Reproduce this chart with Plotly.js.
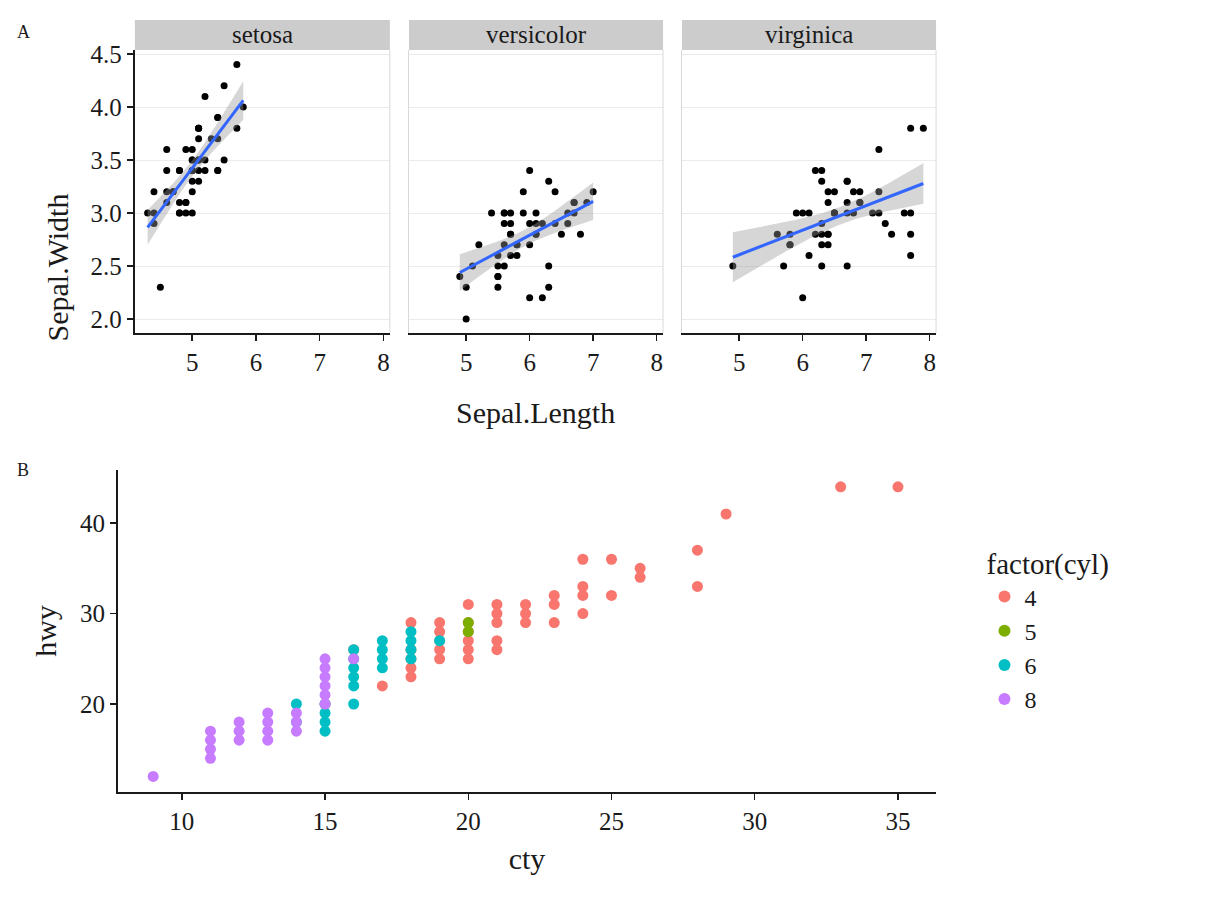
<!DOCTYPE html>
<html>
<head>
<meta charset="utf-8">
<script src="https://cdn.plot.ly/plotly-3.0.1.min.js"></script>
<style>body{margin:0;background:#fff}#chart{width:1226px;height:902px}</style>
</head>
<body>
<div id="chart"></div>
<script>
// Iris sepal measurements by species (length, width).
const species = ['setosa', 'versicolor', 'virginica'];
const setosaLength = [5.1,4.9,4.7,4.6,5.0,5.4,4.6,5.0,4.4,4.9,5.4,4.8,4.8,4.3,5.8,5.7,5.4,5.1,5.7,5.1,5.4,5.1,4.6,5.1,4.8,5.0,5.0,5.2,5.2,4.7,4.8,5.4,5.2,5.5,4.9,5.0,5.5,4.9,4.4,5.1,5.0,4.5,4.4,5.0,5.1,4.8,5.1,4.6,5.3,5.0];
const setosaWidth = [3.5,3.0,3.2,3.1,3.6,3.9,3.4,3.4,2.9,3.1,3.7,3.4,3.0,3.0,4.0,4.4,3.9,3.5,3.8,3.8,3.4,3.7,3.6,3.3,3.4,3.0,3.4,3.5,3.4,3.2,3.1,3.4,4.1,4.2,3.1,3.2,3.5,3.6,3.0,3.4,3.5,2.3,3.2,3.5,3.8,3.0,3.8,3.2,3.7,3.3];
const versicolorLength = [7.0,6.4,6.9,5.5,6.5,5.7,6.3,4.9,6.6,5.2,5.0,5.9,6.0,6.1,5.6,6.7,5.6,5.8,6.2,5.6,5.9,6.1,6.3,6.1,6.4,6.6,6.8,6.7,6.0,5.7,5.5,5.5,5.8,6.0,5.4,6.0,6.7,6.3,5.6,5.5,5.5,6.1,5.8,5.0,5.6,5.7,5.7,6.2,5.1,5.7];
const versicolorWidth = [3.2,3.2,3.1,2.3,2.8,2.8,3.3,2.4,2.9,2.7,2.0,3.0,2.2,2.9,2.9,3.1,3.0,2.7,2.2,2.5,3.2,2.8,2.5,2.8,2.9,3.0,2.8,3.0,2.9,2.6,2.4,2.4,2.7,2.7,3.0,3.4,3.1,2.3,3.0,2.5,2.6,3.0,2.6,2.3,2.7,3.0,2.9,2.9,2.5,2.8];
const virginicaLength = [6.3,5.8,7.1,6.3,6.5,7.6,4.9,7.3,6.7,7.2,6.5,6.4,6.8,5.7,5.8,6.4,6.5,7.7,7.7,6.0,6.9,5.6,7.7,6.3,6.7,7.2,6.2,6.1,6.4,7.2,7.4,7.9,6.4,6.3,6.1,7.7,6.3,6.4,6.0,6.9,6.7,6.9,5.8,6.8,6.7,6.7,6.3,6.5,6.2,5.9];
const virginicaWidth = [3.3,2.7,3.0,2.9,3.0,3.0,2.5,2.9,2.5,3.6,3.2,2.7,3.0,2.5,2.8,3.2,3.0,3.8,2.6,2.2,3.2,2.8,2.8,2.7,3.3,3.2,2.8,3.0,2.8,3.0,2.8,3.8,2.8,2.8,2.6,3.0,3.4,3.1,3.0,3.1,3.1,3.1,2.7,3.2,3.3,3.0,2.5,3.0,3.4,3.0];

// mpg: distinct (cty, hwy) pairs per cylinder count.
const cylLevels = ['4', '5', '6', '8'];
const cty4 = [15,16,17,18,18,18,18,18,19,19,19,19,19,20,20,20,20,20,20,21,21,21,21,21,22,22,22,23,23,23,24,24,24,24,25,25,26,26,28,28,29,33,35];
const hwy4 = [20,26,22,23,24,25,26,29,25,26,27,28,29,25,26,27,28,29,31,26,27,29,30,31,29,30,31,29,31,32,30,32,33,36,32,36,34,35,33,37,41,44,44];
const cty5 = [20,20];
const hwy5 = [28,29];
const cty6 = [14,14,15,15,15,15,16,16,16,16,16,16,17,17,17,17,18,18,18,18,19];
const hwy6 = [18,20,17,18,19,20,20,22,23,24,25,26,24,25,26,27,25,26,27,28,27];
const cty8 = [9,11,11,11,11,12,12,12,13,13,13,13,14,14,14,15,15,15,15,15,15,16];
const hwy8 = [12,14,15,16,17,16,17,18,16,17,18,19,17,18,19,20,21,22,23,24,25,25];
const cylColors = ['#F8766D', '#7CAE00', '#00BFC4', '#C77CFF'];

const serif = 'Liberation Serif';
const facetDomains = [[0.110, 0.318], [0.3336, 0.5408], [0.5563, 0.7635]];
const topDomain = [0.6308, 0.9446];

// Linear fit with 95% confidence band, like geom_smooth(method = 'lm').
function lmBand(x, y) {
    const n = x.length;
    const mx = x.reduce((a, b) => a + b) / n;
    const my = y.reduce((a, b) => a + b) / n;
    let sxx = 0, sxy = 0;
    x.forEach((v, i) => { sxx += (v - mx) ** 2; sxy += (v - mx) * (y[i] - my); });
    const b = sxy / sxx, a = my - b * mx;
    let rss = 0;
    x.forEach((v, i) => { rss += (y[i] - a - b * v) ** 2; });
    const s = Math.sqrt(rss / (n - 2));
    const t = 2.0106;
    const lo = Math.min(...x), hi = Math.max(...x);
    const xs = [], fit = [], upper = [], lower = [];
    for (let k = 0; k <= 80; k++) {
        const xv = lo + (hi - lo) * k / 80;
        const yv = a + b * xv;
        const se = s * Math.sqrt(1 / n + (xv - mx) ** 2 / sxx);
        xs.push(xv); fit.push(yv); upper.push(yv + t * se); lower.push(yv - t * se);
    }
    return { xs, fit, upper, lower };
}

const irisX = [setosaLength, versicolorLength, virginicaLength];
const irisY = [setosaWidth, versicolorWidth, virginicaWidth];
const traces = [];
const layout = {
    width: 1226, height: 902,
    margin: { l: 0, r: 0, t: 0, b: 0 },
    paper_bgcolor: '#fff', plot_bgcolor: '#fff',
    font: { family: serif, size: 24, color: '#1a1a1a' },
    showlegend: true,
    legend: {
        x: 0.803, y: 0.405, xanchor: 'left', yanchor: 'top',
        title: { text: 'factor(cyl)', font: { family: serif, size: 29 } },
        font: { family: serif, size: 24 }, tracegroupgap: 0, itemsizing: 'constant'
    },
    shapes: [], annotations: []
};

species.forEach((name, i) => {
    const xa = i === 0 ? 'x' : 'x' + (i + 1);
    const ya = i === 0 ? 'y' : 'y' + (i + 1);
    const band = lmBand(irisX[i], irisY[i]);
    traces.push({
        x: irisX[i], y: irisY[i], type: 'scatter', mode: 'markers', xaxis: xa, yaxis: ya,
        marker: { color: '#000', size: 7 }, showlegend: false, hoverinfo: 'skip'
    });
    traces.push({
        x: band.xs.concat(band.xs.slice().reverse()),
        y: band.upper.concat(band.lower.slice().reverse()),
        type: 'scatter', mode: 'lines', fill: 'toself', fillcolor: 'rgba(153,153,153,0.4)',
        line: { width: 0 }, xaxis: xa, yaxis: ya, showlegend: false, hoverinfo: 'skip'
    });
    traces.push({
        x: band.xs, y: band.fit, type: 'scatter', mode: 'lines', xaxis: xa, yaxis: ya,
        line: { color: '#3366FF', width: 3 }, showlegend: false, hoverinfo: 'skip'
    });

    layout['xaxis' + (i === 0 ? '' : i + 1)] = {
        domain: facetDomains[i], anchor: ya, range: [4.1, 8.1],
        tickvals: [5, 6, 7, 8], showgrid: false, zeroline: false,
        showline: true, linecolor: '#1a1a1a', linewidth: 2,
        ticks: 'outside', ticklen: 6, tickwidth: 1.5, tickcolor: '#1a1a1a',
        tickfont: { family: serif, size: 25 }
    };
    layout['yaxis' + (i === 0 ? '' : i + 1)] = {
        domain: topDomain, anchor: xa, range: [1.868, 4.538],
        tickvals: [2, 2.5, 3, 3.5, 4, 4.5], ticktext: ['2.0', '2.5', '3.0', '3.5', '4.0', '4.5'],
        showticklabels: i === 0, showgrid: true, gridcolor: '#EBEBEB', zeroline: false,
        showline: true, linecolor: i === 0 ? '#1a1a1a' : '#D9D9D9', linewidth: i === 0 ? 2 : 1,
        ticks: i === 0 ? 'outside' : '', ticklen: 6, tickwidth: 1.5, tickcolor: '#1a1a1a',
        tickfont: { family: serif, size: 25 }
    };
    // Right panel border and facet strip.
    layout.shapes.push({
        type: 'line', xref: 'paper', yref: 'paper',
        x0: facetDomains[i][1], x1: facetDomains[i][1], y0: topDomain[0], y1: topDomain[1],
        line: { color: '#D9D9D9', width: 1 }
    });
    layout.shapes.push({
        type: 'rect', xref: 'paper', yref: 'paper',
        x0: facetDomains[i][0], x1: facetDomains[i][1], y0: 0.9446, y1: 0.9778,
        fillcolor: '#CCCCCC', line: { width: 0 }
    });
    layout.annotations.push({
        text: name, xref: 'paper', yref: 'paper', showarrow: false,
        xanchor: 'center', yanchor: 'middle',
        x: (facetDomains[i][0] + facetDomains[i][1]) / 2, y: 0.9612,
        font: { family: serif, size: 25, color: '#1a1a1a' }
    });
});

// Panel B: hwy against cty, coloured by cylinders.
const ctyByCyl = [cty4, cty5, cty6, cty8];
const hwyByCyl = [hwy4, hwy5, hwy6, hwy8];
cylLevels.forEach((lvl, i) => {
    traces.push({
        x: ctyByCyl[i], y: hwyByCyl[i], name: lvl, type: 'scatter', mode: 'markers',
        xaxis: 'x4', yaxis: 'y4', marker: { color: cylColors[i], size: 11 }
    });
});
layout.xaxis4 = {
    domain: [0.0962, 0.7635], anchor: 'y4', range: [7.77, 36.33],
    tickvals: [10, 15, 20, 25, 30, 35], showgrid: false, zeroline: false,
    showline: true, linecolor: '#1a1a1a', linewidth: 2,
    ticks: 'outside', ticklen: 6, tickwidth: 1.5, tickcolor: '#1a1a1a',
    tickfont: { family: serif, size: 25 },
    title: { text: 'cty', font: { family: serif, size: 30 }, standoff: 14 }
};
layout.yaxis4 = {
    domain: [0.1220, 0.4789], anchor: 'x4', range: [10.28, 45.86],
    tickvals: [20, 30, 40], showgrid: false, zeroline: false,
    showline: true, linecolor: '#1a1a1a', linewidth: 2,
    ticks: 'outside', ticklen: 6, tickwidth: 1.5, tickcolor: '#1a1a1a',
    tickfont: { family: serif, size: 25 },
    title: { text: 'hwy', font: { family: serif, size: 30 }, standoff: 14 }
};

layout.annotations.push(
    { text: 'Sepal.Length', xref: 'paper', yref: 'paper', showarrow: false,
      x: 0.4368, y: 1 - 412 / 902, font: { family: serif, size: 30 } },
    { text: 'Sepal.Width', xref: 'paper', yref: 'paper', showarrow: false, textangle: -90,
      x: 38 / 1226, y: 1 - 192 / 902, font: { family: serif, size: 30 } },
    { text: 'A', xref: 'paper', yref: 'paper', showarrow: false,
      x: 15 / 1226, y: 1 - 20 / 902, font: { family: serif, size: 18 } },
    { text: 'B', xref: 'paper', yref: 'paper', showarrow: false,
      x: 15 / 1226, y: 1 - 470 / 902, font: { family: serif, size: 18 } }
);

Plotly.newPlot('chart', traces, layout, { staticPlot: true });
</script>
</body>
</html>
